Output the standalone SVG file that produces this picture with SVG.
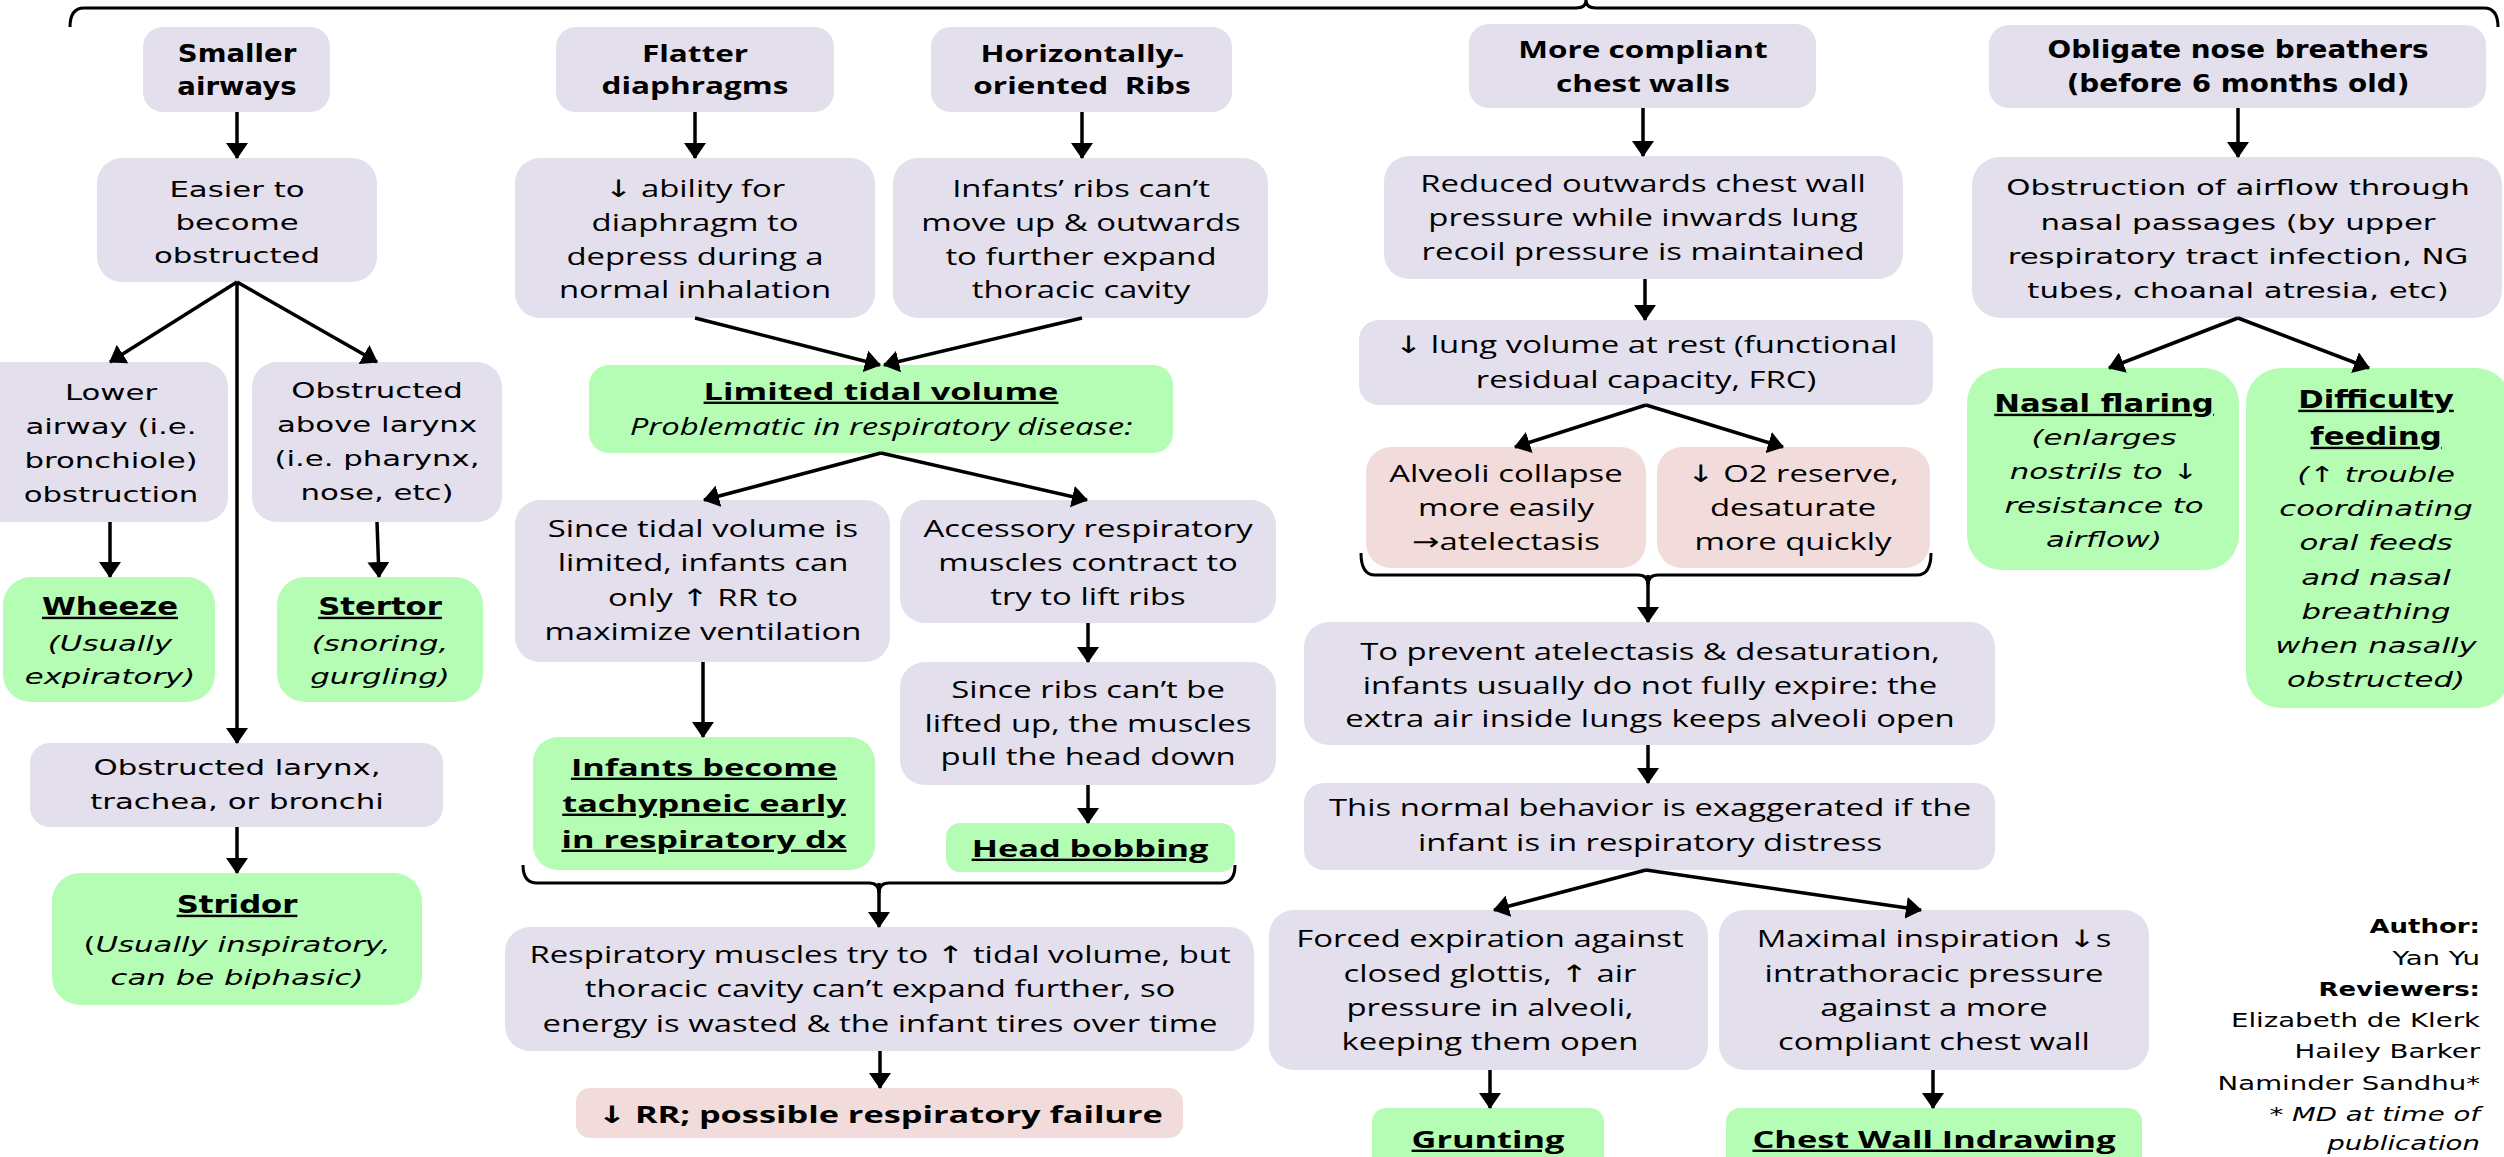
<svg xmlns="http://www.w3.org/2000/svg" width="2504" height="1157" viewBox="0 0 2504 1157">
<defs>
<marker id="ah" viewBox="0 0 16 22" refX="15" refY="11" markerWidth="16" markerHeight="22" markerUnits="userSpaceOnUse" orient="auto"><path d="M0,0 L16,11 L0,22 Z" fill="#000"/></marker>
</defs>
<style>
.lav{fill:#E4DFEC}
.grn{fill:#B5FDB5}
.pnk{fill:#F2DCDB}
text{text-anchor:middle;fill:#000}
.v{font-family:"DejaVu Sans",Verdana,sans-serif;font-size:22px}
.vb{font-family:"DejaVu Sans",Verdana,sans-serif;font-size:24px;font-weight:bold}
.c{font-family:"Open Sans","DejaVu Sans",sans-serif;font-size:24px}
.cb{font-family:"Open Sans","DejaVu Sans",sans-serif;font-size:23px;font-weight:bold}
.cg{font-family:"Open Sans","DejaVu Sans",sans-serif;font-size:24px;font-weight:bold}
.i{font-style:italic}
.u{text-decoration:underline}
.ln{stroke:#000;stroke-width:3.5;fill:none}
.ar{marker-end:url(#ah)}
.br{stroke:#000;stroke-width:3;fill:none}
.au{font-family:"DejaVu Sans",Verdana,sans-serif;font-size:20px;text-anchor:end}
</style>
<rect x="0" y="0" width="2504" height="1157" fill="#fff"/>

<!-- LEFT COLUMN -->
<g id="smaller-airways"><rect class="lav" x="143" y="27" width="187" height="85" rx="20"/>
<text class="vb" transform="matrix(1.15 0 0 1 237 0)" y="62">Smaller</text>
<text class="vb" transform="matrix(1.15 0 0 1 237 0)" y="95">airways</text></g>

<g id="easier-obstructed"><rect class="lav" x="97" y="158" width="280" height="124" rx="25"/>
<text class="v" transform="matrix(1.4 0 0 1 237 0)" y="197">Easier to</text>
<text class="v" transform="matrix(1.4 0 0 1 237 0)" y="230">become</text>
<text class="v" transform="matrix(1.4 0 0 1 237 0)" y="263">obstructed</text></g>

<g id="lower-airway"><rect class="lav" x="-20" y="362" width="248" height="160" rx="25"/>
<text class="v" transform="matrix(1.4 0 0 1 111 0)" y="400">Lower</text>
<text class="v" transform="matrix(1.4 0 0 1 111 0)" y="434">airway (i.e.</text>
<text class="v" transform="matrix(1.4 0 0 1 111 0)" y="468">bronchiole)</text>
<text class="v" transform="matrix(1.4 0 0 1 111 0)" y="502">obstruction</text></g>

<g id="above-larynx"><rect class="lav" x="252" y="362" width="250" height="160" rx="25"/>
<text class="v" transform="matrix(1.4 0 0 1 377 0)" y="398">Obstructed</text>
<text class="v" transform="matrix(1.4 0 0 1 377 0)" y="432">above larynx</text>
<text class="v" transform="matrix(1.4 0 0 1 377 0)" y="466">(i.e. pharynx,</text>
<text class="v" transform="matrix(1.4 0 0 1 377 0)" y="500">nose, etc)</text></g>

<g id="wheeze"><rect class="grn" x="3" y="577" width="212" height="125" rx="28"/>
<text class="vb u" transform="matrix(1.28 0 0 1 110 0)" y="615">Wheeze</text>
<text class="v i" transform="matrix(1.4 0 0 1 110 0)" y="651">(Usually</text>
<text class="v i" transform="matrix(1.4 0 0 1 110 0)" y="684">expiratory)</text></g>

<g id="stertor"><rect class="grn" x="277" y="577" width="206" height="125" rx="28"/>
<text class="vb u" transform="matrix(1.28 0 0 1 380 0)" y="615">Stertor</text>
<text class="v i" transform="matrix(1.4 0 0 1 380 0)" y="651">(snoring,</text>
<text class="v i" transform="matrix(1.4 0 0 1 380 0)" y="684">gurgling)</text></g>

<g id="obstructed-larynx"><rect class="lav" x="30" y="743" width="413" height="84" rx="20"/>
<text class="v" transform="matrix(1.4 0 0 1 237 0)" y="775">Obstructed larynx,</text>
<text class="v" transform="matrix(1.4 0 0 1 237 0)" y="809">trachea, or bronchi</text></g>

<g id="stridor"><rect class="grn" x="52" y="873" width="370" height="132" rx="28"/>
<text class="vb u" transform="matrix(1.28 0 0 1 237 0)" y="913">Stridor</text>
<text class="v" transform="matrix(1.4 0 0 1 237 0)" y="952">(<tspan class="i">Usually inspiratory,</tspan></text>
<text class="v i" transform="matrix(1.4 0 0 1 237 0)" y="985">can be biphasic)</text></g>

<!-- MIDDLE COLUMN -->
<g id="flatter"><rect class="lav" x="556" y="27" width="278" height="85" rx="20"/>
<text class="cb" transform="matrix(1.37 0 0 1 695 0)" y="62">Flatter</text>
<text class="cb" transform="matrix(1.37 0 0 1 695 0)" y="94">diaphragms</text></g>

<g id="horizontal-ribs"><rect class="lav" x="931" y="27" width="301" height="85" rx="20"/>
<text class="cb" transform="matrix(1.37 0 0 1 1082 0)" y="62">Horizontally-</text>
<text class="cb" transform="matrix(1.37 0 0 1 1082 0)" y="94">oriented&#160; Ribs</text></g>

<g id="diaphragm-ability"><rect class="lav" x="515" y="158" width="360" height="160" rx="25"/>
<text class="c" transform="matrix(1.37 0 0 1 695 0)" y="197">↓ ability for</text>
<text class="c" transform="matrix(1.37 0 0 1 695 0)" y="231">diaphragm to</text>
<text class="c" transform="matrix(1.37 0 0 1 695 0)" y="265">depress during a</text>
<text class="c" transform="matrix(1.37 0 0 1 695 0)" y="298">normal inhalation</text></g>

<g id="ribs-cant-move"><rect class="lav" x="893" y="158" width="375" height="160" rx="25"/>
<text class="c" transform="matrix(1.37 0 0 1 1081 0)" y="197">Infants’ ribs can’t</text>
<text class="c" transform="matrix(1.37 0 0 1 1081 0)" y="231">move up &amp; outwards</text>
<text class="c" transform="matrix(1.37 0 0 1 1081 0)" y="265">to further expand</text>
<text class="c" transform="matrix(1.37 0 0 1 1081 0)" y="298">thoracic cavity</text></g>

<g id="limited-tidal"><rect class="grn" x="589" y="365" width="584" height="88" rx="20"/>
<text class="cg u" transform="matrix(1.43 0 0 1 881 0)" y="400">Limited tidal volume</text>
<text class="c i" transform="matrix(1.37 0 0 1 881 0)" y="435">Problematic in respiratory disease:</text></g>

<g id="only-rr"><rect class="lav" x="515" y="500" width="375" height="162" rx="25"/>
<text class="c" transform="matrix(1.37 0 0 1 703 0)" y="537">Since tidal volume is</text>
<text class="c" transform="matrix(1.37 0 0 1 703 0)" y="571">limited, infants can</text>
<text class="c" transform="matrix(1.37 0 0 1 703 0)" y="606">only ↑ RR to</text>
<text class="c" transform="matrix(1.37 0 0 1 703 0)" y="640">maximize ventilation</text></g>

<g id="accessory-muscles"><rect class="lav" x="900" y="500" width="376" height="123" rx="25"/>
<text class="c" transform="matrix(1.37 0 0 1 1088 0)" y="537">Accessory respiratory</text>
<text class="c" transform="matrix(1.37 0 0 1 1088 0)" y="571">muscles contract to</text>
<text class="c" transform="matrix(1.37 0 0 1 1088 0)" y="605">try to lift ribs</text></g>

<g id="pull-head"><rect class="lav" x="900" y="662" width="376" height="123" rx="25"/>
<text class="c" transform="matrix(1.37 0 0 1 1088 0)" y="698">Since ribs can’t be</text>
<text class="c" transform="matrix(1.37 0 0 1 1088 0)" y="732">lifted up, the muscles</text>
<text class="c" transform="matrix(1.37 0 0 1 1088 0)" y="765">pull the head down</text></g>

<g id="tachypneic"><rect class="grn" x="533" y="737" width="342" height="133" rx="25"/>
<text class="cg u" transform="matrix(1.43 0 0 1 704 0)" y="776">Infants become</text>
<text class="cg u" transform="matrix(1.43 0 0 1 704 0)" y="812">tachypneic early</text>
<text class="cg u" transform="matrix(1.43 0 0 1 704 0)" y="848">in respiratory dx</text></g>

<g id="head-bobbing"><rect class="grn" x="946" y="823" width="289" height="49" rx="14"/>
<text class="cg u" transform="matrix(1.43 0 0 1 1090 0)" y="857">Head bobbing</text></g>

<g id="energy-wasted"><rect class="lav" x="505" y="927" width="749" height="124" rx="25"/>
<text class="c" transform="matrix(1.37 0 0 1 880 0)" y="963">Respiratory muscles try to ↑ tidal volume, but</text>
<text class="c" transform="matrix(1.37 0 0 1 880 0)" y="997">thoracic cavity can’t expand further, so</text>
<text class="c" transform="matrix(1.37 0 0 1 880 0)" y="1032">energy is wasted &amp; the infant tires over time</text></g>

<g id="resp-failure"><rect class="pnk" x="576" y="1088" width="607" height="50" rx="14"/>
<text class="cg" transform="matrix(1.43 0 0 1 880 0)" y="1123">↓ RR; possible respiratory failure</text></g>

<!-- RIGHT-CENTER COLUMN -->
<g id="compliant-chest"><rect class="lav" x="1469" y="24" width="347" height="84" rx="20"/>
<text class="cb" transform="matrix(1.37 0 0 1 1643 0)" y="58">More compliant</text>
<text class="cb" transform="matrix(1.37 0 0 1 1643 0)" y="92">chest walls</text></g>

<g id="reduced-pressure"><rect class="lav" x="1384" y="156" width="519" height="123" rx="25"/>
<text class="c" transform="matrix(1.37 0 0 1 1643 0)" y="192">Reduced outwards chest wall</text>
<text class="c" transform="matrix(1.37 0 0 1 1643 0)" y="226">pressure while inwards lung</text>
<text class="c" transform="matrix(1.37 0 0 1 1643 0)" y="260">recoil pressure is maintained</text></g>

<g id="lung-volume"><rect class="lav" x="1359" y="320" width="574" height="85" rx="20"/>
<text class="c" transform="matrix(1.37 0 0 1 1646 0)" y="353">↓ lung volume at rest (functional</text>
<text class="c" transform="matrix(1.37 0 0 1 1646 0)" y="388">residual capacity, FRC)</text></g>

<g id="alveoli-collapse"><rect class="pnk" x="1366" y="447" width="280" height="121" rx="25"/>
<text class="c" transform="matrix(1.37 0 0 1 1506 0)" y="482">Alveoli collapse</text>
<text class="c" transform="matrix(1.37 0 0 1 1506 0)" y="516">more easily</text>
<text class="c" transform="matrix(1.37 0 0 1 1506 0)" y="550">→atelectasis</text></g>

<g id="o2-reserve"><rect class="pnk" x="1657" y="447" width="273" height="121" rx="25"/>
<text class="c" transform="matrix(1.37 0 0 1 1793 0)" y="482">↓ O2 reserve,</text>
<text class="c" transform="matrix(1.37 0 0 1 1793 0)" y="516">desaturate</text>
<text class="c" transform="matrix(1.37 0 0 1 1793 0)" y="550">more quickly</text></g>

<g id="not-fully-expire"><rect class="lav" x="1304" y="622" width="691" height="123" rx="25"/>
<text class="c" transform="matrix(1.37 0 0 1 1650 0)" y="660">To prevent atelectasis &amp; desaturation,</text>
<text class="c" transform="matrix(1.37 0 0 1 1650 0)" y="694">infants usually do not fully expire: the</text>
<text class="c" transform="matrix(1.37 0 0 1 1650 0)" y="727">extra air inside lungs keeps alveoli open</text></g>

<g id="exaggerated"><rect class="lav" x="1304" y="783" width="691" height="87" rx="20"/>
<text class="c" transform="matrix(1.37 0 0 1 1650 0)" y="816">This normal behavior is exaggerated if the</text>
<text class="c" transform="matrix(1.37 0 0 1 1650 0)" y="851">infant is in respiratory distress</text></g>

<g id="forced-expiration"><rect class="lav" x="1269" y="910" width="439" height="160" rx="25"/>
<text class="c" transform="matrix(1.37 0 0 1 1490 0)" y="947">Forced expiration against</text>
<text class="c" transform="matrix(1.37 0 0 1 1490 0)" y="982">closed glottis, ↑ air</text>
<text class="c" transform="matrix(1.37 0 0 1 1490 0)" y="1016">pressure in alveoli,</text>
<text class="c" transform="matrix(1.37 0 0 1 1490 0)" y="1050">keeping them open</text></g>

<g id="maximal-inspiration"><rect class="lav" x="1719" y="910" width="430" height="160" rx="25"/>
<text class="c" transform="matrix(1.37 0 0 1 1934 0)" y="947">Maximal inspiration ↓s</text>
<text class="c" transform="matrix(1.37 0 0 1 1934 0)" y="982">intrathoracic pressure</text>
<text class="c" transform="matrix(1.37 0 0 1 1934 0)" y="1016">against a more</text>
<text class="c" transform="matrix(1.37 0 0 1 1934 0)" y="1050">compliant chest wall</text></g>

<g id="grunting"><rect class="grn" x="1372" y="1108" width="232" height="70" rx="14"/>
<text class="cg u" transform="matrix(1.43 0 0 1 1488 0)" y="1148">Grunting</text></g>

<g id="chest-indrawing"><rect class="grn" x="1726" y="1108" width="416" height="70" rx="14"/>
<text class="cg u" transform="matrix(1.43 0 0 1 1934 0)" y="1148">Chest Wall Indrawing</text></g>

<!-- RIGHT COLUMN -->
<g id="nose-breathers"><rect class="lav" x="1989" y="25" width="497" height="83" rx="20"/>
<text class="vb" transform="matrix(1.16 0 0 1 2238 0)" y="58">Obligate nose breathers</text>
<text class="vb" transform="matrix(1.16 0 0 1 2238 0)" y="92">(before 6 months old)</text></g>

<g id="nasal-obstruction"><rect class="lav" x="1972" y="157" width="530" height="161" rx="28"/>
<text class="v" transform="matrix(1.4 0 0 1 2238 0)" y="195">Obstruction of airflow through</text>
<text class="v" transform="matrix(1.4 0 0 1 2238 0)" y="230">nasal passages (by upper</text>
<text class="v" transform="matrix(1.4 0 0 1 2238 0)" y="264">respiratory tract infection, NG</text>
<text class="v" transform="matrix(1.4 0 0 1 2238 0)" y="298">tubes, choanal atresia, etc)</text></g>

<g id="nasal-flaring"><rect class="grn" x="1967" y="368" width="272" height="202" rx="35"/>
<text class="vb u" transform="matrix(1.28 0 0 1 2104 0)" y="412">Nasal flaring</text>
<text class="v i" transform="matrix(1.4 0 0 1 2104 0)" y="445">(enlarges</text>
<text class="v i" transform="matrix(1.4 0 0 1 2104 0)" y="479">nostrils to ↓</text>
<text class="v i" transform="matrix(1.4 0 0 1 2104 0)" y="513">resistance to</text>
<text class="v i" transform="matrix(1.4 0 0 1 2104 0)" y="547">airflow)</text></g>

<g id="difficulty-feeding"><rect class="grn" x="2246" y="368" width="265" height="340" rx="35"/>
<text class="vb u" transform="matrix(1.28 0 0 1 2376 0)" y="408">Difficulty</text>
<text class="vb u" transform="matrix(1.28 0 0 1 2376 0)" y="445">feeding</text>
<text class="v i" transform="matrix(1.4 0 0 1 2376 0)" y="482">(↑ trouble</text>
<text class="v i" transform="matrix(1.4 0 0 1 2376 0)" y="516">coordinating</text>
<text class="v i" transform="matrix(1.4 0 0 1 2376 0)" y="550">oral feeds</text>
<text class="v i" transform="matrix(1.4 0 0 1 2376 0)" y="585">and nasal</text>
<text class="v i" transform="matrix(1.4 0 0 1 2376 0)" y="619">breathing</text>
<text class="v i" transform="matrix(1.4 0 0 1 2376 0)" y="653">when nasally</text>
<text class="v i" transform="matrix(1.4 0 0 1 2376 0)" y="687">obstructed)</text></g>

<g id="credits">
<text class="au" font-weight="bold" transform="matrix(1.3 0 0 1 2480 0)" y="933">Author:</text>
<text class="au" transform="matrix(1.38 0 0 1 2480 0)" y="965">Yan Yu</text>
<text class="au" font-weight="bold" transform="matrix(1.3 0 0 1 2480 0)" y="996">Reviewers:</text>
<text class="au" transform="matrix(1.38 0 0 1 2480 0)" y="1027">Elizabeth de Klerk</text>
<text class="au" transform="matrix(1.38 0 0 1 2480 0)" y="1058">Hailey Barker</text>
<text class="au" transform="matrix(1.38 0 0 1 2480 0)" y="1090">Naminder Sandhu*</text>
<text class="au i" transform="matrix(1.38 0 0 1 2480 0)" y="1121">* MD at time of</text>
<text class="au i" transform="matrix(1.38 0 0 1 2480 0)" y="1150">publication</text></g>

<!-- CONNECTORS -->
<g id="connectors">
<path class="br" d="M70,27 Q70,8 84,8 H1576 Q1586,8 1586,0 Q1586,8 1596,8 H2484 Q2498,8 2498,27"/>
<path class="br" d="M523,865 Q523,883 537,883 H869 Q879,883 879,893 Q879,883 889,883 H1221 Q1235,883 1235,865"/>
<path class="br" d="M1361,553 Q1361,575 1375,575 H1638 Q1648,575 1648,585 Q1648,575 1658,575 H1917 Q1931,575 1931,553"/>
<path class="ln ar" d="M237,112 V158"/>
<path class="ln ar" d="M237,282 L110,362"/>
<path class="ln ar" d="M237,282 L377,362"/>
<path class="ln ar" d="M237,282 V743"/>
<path class="ln ar" d="M110,522 V577"/>
<path class="ln ar" d="M377,522 L379,577"/>
<path class="ln ar" d="M237,827 V873"/>
<path class="ln ar" d="M695,112 V158"/>
<path class="ln ar" d="M1082,112 V158"/>
<path class="ln ar" d="M695,318 L880,365"/>
<path class="ln ar" d="M1082,318 L884,365"/>
<path class="ln ar" d="M881,453 L704,500"/>
<path class="ln ar" d="M881,453 L1087,500"/>
<path class="ln ar" d="M1088,623 V662"/>
<path class="ln ar" d="M1088,785 V823"/>
<path class="ln ar" d="M703,662 V737"/>
<path class="ln ar" d="M879,883 V927"/>
<path class="ln ar" d="M880,1051 V1088"/>
<path class="ln ar" d="M1643,108 V156"/>
<path class="ln ar" d="M1645,279 V320"/>
<path class="ln ar" d="M1646,405 L1515,447"/>
<path class="ln ar" d="M1646,405 L1783,447"/>
<path class="ln ar" d="M1648,575 V622"/>
<path class="ln ar" d="M1648,745 V783"/>
<path class="ln ar" d="M1646,870 L1494,910"/>
<path class="ln ar" d="M1646,870 L1921,910"/>
<path class="ln ar" d="M1490,1070 V1108"/>
<path class="ln ar" d="M1933,1070 V1108"/>
<path class="ln ar" d="M2238,108 V157"/>
<path class="ln ar" d="M2238,318 L2109,368"/>
<path class="ln ar" d="M2238,318 L2369,368"/>
</g>
</svg>
